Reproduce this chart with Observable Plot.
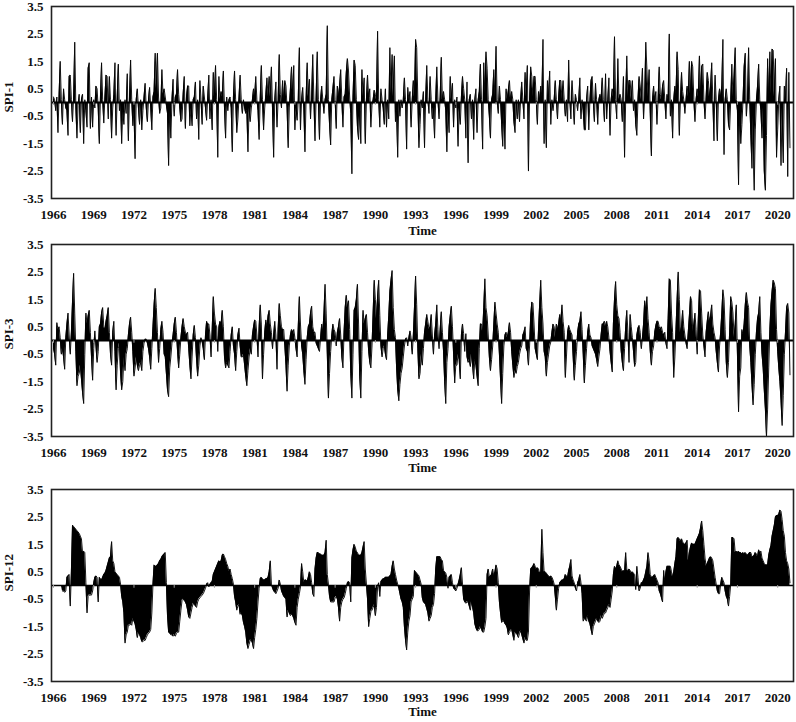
<!DOCTYPE html>
<html><head><meta charset="utf-8">
<script src="https://cdn.jsdelivr.net/npm/d3@7"></script>
<script src="https://cdn.jsdelivr.net/npm/@observablehq/plot@0.6"></script>
<style>
html,body{margin:0;padding:0;background:#fff;}
#chart{position:relative;width:796px;height:722px;overflow:hidden;background:#fff;}
#chart svg{position:absolute;left:0;}
</style></head><body><div id="chart"></div>
<script>
const startYear = 1966;
const xTickYears = [1966,1969,1972,1975,1978,1981,1984,1987,1990,1993,1996,1999,2002,2005,2008,2011,2014,2017,2020];
const yTicks = [-3.5,-2.5,-1.5,-0.5,0.5,1.5,2.5,3.5];
const panelLabels = ["SPI-1","SPI-3","SPI-12"];
const axisTitle = "Time";

// monthly values, Jan 1966 - Dec 2020, one row per year
const spi1 = [
0.2,0.1,-0.3,0.2,-1.1,0.3,1.5,0.1,-0.8,0.5,0.1,-0.2,
-0.3,-1.2,0.95,1.0,0.1,-0.7,0.2,2.2,-0.2,-1.3,-0.1,0.3,
-1.1,0.1,0.3,-1.5,0.1,-0.3,-0.9,1.25,1.45,-0.95,0.2,-0.9,
0.1,-0.2,0.6,0.5,-0.2,-1.5,0.2,1.45,0.1,-0.75,0.2,1.0,
0.95,-0.6,0.95,0.1,-1.3,-0.2,0.3,1.45,-1.2,0.2,1.4,-0.3,
0.1,-1.5,-0.3,-0.8,0.1,-0.4,1.05,-1.4,0.2,1.55,0.1,-0.85,
-0.3,-2.05,0.1,0.5,-0.2,-0.8,0.1,-1.0,-0.3,0.2,0.7,-0.2,
-0.7,0.1,0.55,-0.2,-1.0,0.2,0.4,1.8,0.5,1.8,0.2,-0.4,
-0.2,1.2,0.3,0.5,0.2,-0.1,-0.4,-2.3,-0.3,-1.3,0.1,0.85,
-0.5,0.2,0.3,1.2,0.3,-0.2,-0.7,-0.6,0.3,0.95,-0.95,0.2,
0.6,0.6,-0.85,-0.2,-0.85,0.1,0.2,0.75,-0.6,0.1,-1.35,0.8,
0.1,-0.8,0.6,0.2,-0.2,-0.65,0.2,1.0,-0.6,0.1,-1.0,1.1,
0.2,1.35,0.1,-2.0,0.95,0.1,0.4,0.2,1.15,-0.2,-1.3,0.2,
-0.3,0.1,0.2,-0.2,-1.8,0.2,1.15,0.1,-1.1,-0.6,0.2,1.0,
0.1,-0.4,0.1,-0.2,-0.4,-0.3,-1.8,-0.2,-0.7,-0.2,0.1,0.5,
0.2,0.95,0.1,-0.3,-1.35,0.2,1.35,0.1,-1.0,-0.2,0.3,0.9,
0.2,0.95,0.2,1.3,-0.3,-2.0,0.1,0.75,-0.9,0.1,1.75,0.3,
-0.2,0.8,0.1,0.8,0.6,-0.2,-1.65,-0.2,0.5,1.3,0.3,1.35,
-1.0,-0.2,-0.65,0.1,2.0,-1.0,0.1,0.55,-0.2,-1.8,0.1,1.45,
0.2,0.85,-0.6,0.2,1.75,0.1,-1.4,0.2,1.85,0.1,-1.35,0.1,
0.6,0.1,-0.4,0.1,0.3,2.8,0.1,-0.8,-1.55,0.1,0.5,0.95,
0.1,-0.95,0.6,0.2,0.6,1.2,0.1,-0.9,0.2,0.3,1.1,1.6,
1.15,0.2,-0.4,-2.6,0.2,1.55,1.35,0.1,-0.9,-1.35,-0.3,-1.5,
1.2,0.2,0.9,-1.5,0.1,1.0,0.2,0.5,-0.9,-0.1,0.1,0.45,
0.3,0.1,2.6,0.1,-0.9,0.5,0.1,-0.2,-0.8,0.5,-0.9,0.1,
-0.6,2.0,0.3,1.75,0.2,1.7,-0.7,-0.3,-2.0,0.1,-0.5,0.1,
-0.2,0.1,0.9,0.1,-1.7,0.55,0.1,0.4,-0.9,0.1,0.8,0.2,
2.3,2.0,0.1,-1.65,-0.8,0.1,-0.2,0.4,-1.65,0.1,1.35,0.1,
-0.4,0.95,0.1,-0.6,-0.2,-1.3,0.1,1.3,0.1,-0.6,0.2,1.65,
0.1,0.4,0.1,-0.3,-1.8,-0.2,-1.1,0.95,0.1,0.7,-0.9,0.1,
-0.2,0.2,-1.6,-0.2,-0.8,0.2,0.95,0.5,0.1,-1.3,0.75,-2.2,
0.1,0.3,-0.6,0.1,-1.35,0.1,0.5,-1.1,0.1,0.4,1.4,0.1,
-1.7,1.45,0.3,1.85,1.25,0.1,-0.5,-1.3,0.1,0.3,1.2,0.2,
2.05,0.1,-0.4,0.6,0.1,-0.8,-1.6,-0.3,-1.7,0.5,0.1,0.45,
0.8,0.1,0.4,0.1,-0.7,-1.1,0.1,-0.6,0.1,-0.7,0.1,0.75,
0.1,-0.6,1.1,0.2,1.35,-2.5,0.1,1.3,0.95,0.2,0.95,0.95,
0.1,-0.8,0.4,0.1,0.6,0.2,2.3,-1.5,0.1,-1.65,0.8,0.2,
1.15,-0.8,0.1,-0.3,0.1,0.8,0.1,-0.6,0.2,0.8,0.8,0.1,
0.8,0.1,-0.5,0.1,-0.7,1.55,0.1,-0.6,0.8,0.1,-0.8,0.3,
0.1,-0.3,0.1,0.9,-0.6,0.1,-0.3,-1.0,-1.0,0.1,0.6,-1.0,
0.1,0.8,0.95,0.1,-0.7,0.7,0.1,-0.8,0.1,0.3,0.1,0.9,
0.1,-0.7,1.05,-0.6,0.1,0.9,-1.2,0.1,0.5,0.2,2.4,0.1,
-0.6,1.6,0.1,0.3,0.1,-0.7,0.95,-2.0,0.1,1.7,0.2,0.8,
0.8,0.1,0.8,-0.3,0.1,-0.8,-1.2,0.1,0.95,0.6,0.1,1.25,
-0.6,0.2,2.2,1.2,0.2,1.2,-0.4,-1.95,0.1,0.6,0.1,0.4,
-0.8,0.1,1.3,0.3,0.1,0.6,0.8,0.1,-0.6,0.3,0.1,2.5,
-0.5,0.1,-1.3,0.1,0.6,0.3,1.85,1.2,-1.2,0.1,1.1,0.4,
0.1,-0.4,0.1,0.6,0.2,1.5,0.3,1.5,1.3,0.1,-0.7,0.1,
0.5,0.2,1.7,0.3,1.3,1.4,0.1,-0.6,0.2,1.1,0.8,0.2,
0.6,1.45,0.1,-1.4,1.0,0.1,-1.4,0.1,0.5,0.2,0.6,2.3,
-1.9,0.1,0.5,0.1,-0.8,-1.0,0.1,1.4,0.2,1.0,2.0,0.1,
-0.3,-3.0,-0.4,-1.5,-0.8,0.1,1.3,1.8,-0.5,0.1,2.0,0.1,
-1.2,-2.4,-0.5,-3.2,-1.0,0.1,0.6,1.4,0.1,-0.3,-1.3,-0.2,
-2.5,-3.2,-1.2,1.6,0.2,1.85,0.3,1.95,1.9,0.2,1.6,-2.0,
-1.0,0.1,0.6,-2.3,-0.2,-2.2,0.6,0.1,1.25,-2.7,1.1,-1.65
];

const spi3 = [
-0.3,-0.5,-0.9,0.65,0.4,0.5,0.1,-0.5,-0.3,-0.6,-1.05,0.1,
0.6,1.0,0.2,-0.5,0.3,1.4,2.45,1.0,-0.4,-1.65,-1.3,-1.2,
-0.9,-1.4,-1.9,-2.3,-0.5,1.0,0.6,0.9,1.1,0.3,-0.6,-1.45,
-0.3,0.35,-0.2,-0.8,-0.4,0.5,0.6,1.0,1.2,0.5,0.4,0.7,
0.9,1.2,0.3,-0.5,-0.9,0.3,0.7,-0.4,-1.8,-0.9,-0.3,-0.1,
-1.2,-1.8,-1.5,-0.6,-1.1,-0.5,-0.3,0.2,0.6,0.85,0.3,-0.4,
-1.3,-1.0,-0.6,-0.9,-1.1,-0.9,-0.8,-1.1,-0.4,-0.1,0.05,0.05,
-0.1,-0.3,-0.6,-1.05,-0.3,0.5,1.3,1.9,1.2,0.3,-0.8,-0.3,
0.4,0.7,0.3,-0.5,-0.6,-1.2,-1.8,-2.05,-1.0,-0.6,-0.1,0.2,
0.6,0.85,0.3,-0.4,-1.0,-0.5,0.1,0.5,0.8,0.5,0.3,0.2,
0.3,-0.3,-0.9,-1.4,-0.6,0.2,0.55,0.1,-0.7,-1.3,-0.9,-0.2,
0.1,-0.05,-0.3,-0.7,0.2,0.7,0.6,0.6,0.2,-0.6,0.4,1.6,
1.0,0.6,0.5,-0.4,0.5,0.7,0.6,1.1,0.5,-0.6,-1.0,-0.8,
-0.9,-1.0,-0.4,0.2,0.5,-0.2,-0.5,-1.1,-0.4,0.2,0.45,-0.2,
-0.6,-0.6,-0.5,-0.9,-1.3,-1.65,-1.1,-0.6,-0.3,-0.5,0.2,0.5,
0.75,0.7,0.2,-0.6,0.5,1.3,0.6,-1.4,-0.5,0.3,0.75,0.5,
0.9,1.1,0.6,0.3,-0.3,0.2,0.7,0.2,-1.05,0.4,1.35,0.9,
0.5,0.4,0.4,-0.2,-0.9,-1.85,-0.9,-0.2,0.2,0.4,0.3,0.4,
0.1,-0.3,-0.6,0.5,1.6,0.6,-0.2,-0.5,-1.1,-1.6,-0.7,0.1,
0.5,0.6,1.0,1.25,0.5,0.3,0.3,-0.1,-0.2,-0.3,-0.4,0.1,
0.6,0.3,1.0,2.05,1.0,-0.5,-2.1,-1.2,-0.4,0.2,0.6,0.4,
0.3,-0.2,0.3,0.5,0.8,0.2,-0.6,-1.0,0.3,1.2,1.65,1.2,
1.45,0.4,-1.2,-2.1,-0.5,1.1,1.2,1.5,2.05,0.6,-1.3,-2.1,
-0.4,1.1,0.6,0.8,0.95,0.3,-0.4,-0.8,-1.0,-0.2,1.0,2.2,
1.5,0.8,1.6,2.2,0.9,-0.2,-0.6,-0.3,-0.2,-0.5,-0.7,0.2,
0.9,1.8,2.2,2.55,1.2,0.4,0.1,-1.0,-1.8,-2.2,-1.6,-1.2,
-1.0,-0.6,-0.2,0.05,0.1,-0.2,0.1,0.35,0.1,-0.5,0.2,1.2,
2.35,1.3,-0.3,-1.4,-1.2,-0.5,-0.9,-0.3,0.3,0.6,0.95,0.7,
0.4,0.5,0.95,0.2,-0.5,0.2,0.6,1.3,0.4,-0.3,0.4,1.05,
0.3,-0.4,-1.5,-2.3,-0.8,-0.3,0.5,0.9,1.25,0.5,-0.5,-1.55,
-0.9,-0.9,-0.5,-0.7,-1.4,0.2,0.6,0.25,-0.4,0.25,-0.6,-0.8,
-0.7,-0.95,-0.5,-0.9,-1.4,-0.7,-0.9,-1.3,-1.65,-0.3,0.6,0.6,
0.3,1.2,2.25,1.2,0.9,0.2,-0.6,-1.1,-0.7,-0.2,0.6,1.4,
1.0,0.6,0.3,-0.5,-1.4,-2.3,-1.2,-0.2,0.2,0.3,0.1,0.3,
0.65,0.3,-0.4,-0.9,-1.35,-1.1,-1.2,-0.95,-0.8,-0.5,-0.3,-0.2,
0.2,0.3,0.5,-0.3,-0.4,-0.9,-0.2,0.9,1.4,1.35,0.6,-0.3,
-0.5,-0.7,0.4,1.3,2.2,1.2,0.6,-0.4,-0.6,-1.3,-0.8,-0.5,
-0.2,-0.05,0.3,0.6,0.5,0.1,0.6,0.4,0.6,0.95,0.7,1.3,
0.7,0.3,-1.35,-0.6,0.3,0.55,0.4,0.3,0.2,-0.6,-1.45,-0.9,
-0.4,0.3,0.6,0.7,1.05,0.4,-0.5,-1.55,-0.9,-0.3,0.3,0.6,
0.2,0.1,-0.2,-0.3,-0.4,-0.5,-0.7,-0.95,-0.6,-0.3,0.2,0.6,
0.6,0.7,0.5,0.7,0.5,0.1,-0.4,-0.8,-1.15,0.6,1.5,2.15,
1.3,0.9,0.8,0.3,-0.4,-0.8,-1.1,-0.3,0.5,1.1,0.3,-0.8,
0.95,0.5,0.1,-0.4,-0.95,-0.8,0.2,0.45,0.55,0.3,-0.3,0.1,
0.6,1.45,1.1,1.6,0.8,0.3,-0.4,-0.9,-0.4,-0.2,0.3,0.55,
0.7,0.7,0.5,0.4,0.5,0.3,0.2,0.3,-0.1,-0.3,0.8,2.25,
2.2,1.0,0.3,-1.35,-0.6,0.4,1.5,2.5,1.5,0.3,0.5,1.1,
0.5,0.2,-0.1,-0.3,0.3,0.9,1.6,1.45,0.3,0.6,1.0,0.4,
-0.5,0.8,1.85,1.8,1.0,0.2,-0.2,-0.6,0.3,0.7,1.05,0.7,
0.9,1.3,0.6,0.3,0.1,-0.4,-0.8,-1.15,-0.2,0.3,1.0,1.85,
1.5,0.4,-0.8,-1.35,-0.8,0.3,1.6,1.4,1.0,0.1,0.6,1.3,
-0.5,-2.6,-1.3,-1.0,0.4,0.2,0.6,1.3,1.75,1.4,1.2,-0.2,
-0.8,-1.6,-2.35,-1.6,-0.5,0.3,0.8,1.0,1.6,0.3,-0.5,-1.0,
-1.8,-2.5,-3.5,-2.5,-1.0,0.4,1.3,1.8,2.2,2.1,1.9,0.4,
-0.4,-1.0,-1.5,-2.2,-3.1,-2.0,-0.5,0.3,1.2,1.35,1.0,-1.25
];

const spi12 = [
null,null,null,null,null,null,null,null,-0.2,-0.2,-0.25,-0.2,
0.3,0.35,0.4,-0.75,0.5,2.2,2.15,2.1,2.05,2.0,1.95,1.9,
1.8,1.7,1.2,1.25,1.2,0.1,-1.0,-0.4,-0.35,-0.35,-0.35,-0.2,
0.1,0.3,0.35,0.3,-0.6,0.3,0.25,0.2,0.3,0.4,0.45,0.55,
0.7,0.85,1.0,1.05,1.6,0.9,0.8,0.5,0.45,0.4,0.35,0.3,
0.05,-0.4,-0.6,-1.0,-2.1,-1.8,-1.7,-1.45,-1.45,-1.4,-1.45,-1.2,
-1.3,-1.4,-1.6,-1.9,-1.7,-1.8,-1.9,-2.05,-2.05,-2.0,-2.0,-1.9,
-1.8,-1.75,-1.7,-1.6,-1.0,0.05,0.75,0.7,0.7,0.75,0.8,0.9,
0.95,1.05,1.1,1.15,1.2,0.1,-1.1,-1.7,-1.75,-1.8,-1.8,-1.85,
-1.8,-1.85,-1.75,-1.7,-1.7,-1.3,-0.9,-0.55,-0.5,-0.55,-0.6,-0.7,
-0.9,-1.15,-1.2,-1.0,-0.8,-0.65,-0.7,-0.75,-0.8,-0.6,-0.5,-0.45,
-0.4,-0.35,-0.3,-0.2,-0.1,0.05,0.1,-0.05,0.05,0.1,0.15,0.4,
0.5,0.6,0.7,0.8,0.9,0.85,0.9,1.1,1.15,1.05,0.95,0.8,
0.7,0.5,0.6,0.4,0.25,0.05,-0.4,-0.6,-0.9,-0.75,-0.7,-1.05,
-1.0,-1.1,-1.35,-1.5,-1.7,-2.1,-2.3,-2.15,-2.0,-2.0,-2.1,-2.3,
-1.9,-1.6,-1.2,-0.6,-0.1,0.25,0.3,0.25,0.2,0.2,0.25,0.25,
0.3,0.5,0.9,0.05,-0.1,-0.2,-0.25,-0.3,-0.2,-0.1,0.2,0.05,
-0.2,-0.3,-0.4,-0.45,-0.5,-1.15,-0.9,-1.0,-1.1,-1.05,-1.1,-1.2,
-1.35,-1.45,-0.8,-0.5,-0.3,-0.05,0.8,0.5,0.1,0.2,0.2,0.15,
0.3,0.5,0.4,0.1,-0.3,-0.4,0.6,1.0,1.2,1.2,1.15,1.15,
1.1,1.1,1.1,1.2,1.65,0.4,0.05,-0.4,-0.6,-0.6,-0.6,-0.6,
-0.45,-0.4,-0.5,-0.8,-1.3,-0.8,-0.6,-0.5,-0.45,-0.3,-0.1,0.1,
0.15,0.1,-0.6,1.0,1.3,1.5,1.4,1.25,1.2,1.1,1.1,1.1,
1.2,1.4,1.6,0.6,0.05,-0.5,-1.5,-1.2,-0.95,-0.9,-0.8,-0.7,
-1.1,-0.8,-0.05,0.1,-0.4,0.15,0.2,0.25,0.25,0.3,0.3,0.3,
0.3,0.35,0.4,0.7,0.9,0.6,0.4,0.2,0.05,-0.1,-0.3,-0.5,
-0.6,-0.8,-1.5,-2.0,-2.35,-1.7,-1.3,-1.1,-0.6,-0.5,-0.4,0.55,
0.5,0.45,0.4,0.35,0.2,0.05,-0.45,-0.6,-0.65,-0.7,-0.85,-1.0,
-1.3,-1.2,-1.1,-0.8,-0.7,-0.3,0.6,1.05,1.05,1.05,1.05,0.95,
0.9,0.55,0.5,0.45,0.3,-0.1,0.3,0.35,0.4,0.1,-0.1,-0.15,
-0.2,-0.1,0.05,0.2,0.4,0.65,0.05,-0.5,-0.6,-0.65,-0.6,-0.6,
-0.75,-0.9,-0.6,-0.8,-1.0,-1.4,-1.55,-1.65,-1.65,-1.6,-1.5,-1.6,
-1.7,-1.7,-1.5,-1.2,0.4,0.6,0.3,0.35,0.4,0.6,0.35,0.5,
0.75,0.6,0.1,-0.6,-1.0,-1.35,-1.3,-1.3,-1.4,-1.45,-1.55,-1.8,
-1.7,-1.65,-1.6,-1.8,-2.0,-1.7,-1.75,-1.8,-1.9,-1.75,-1.65,-1.8,
-1.95,-2.1,-1.9,-2.0,-2.0,-1.7,-0.2,0.6,0.65,0.7,0.8,0.7,
0.6,0.65,0.6,0.45,0.5,2.05,1.2,0.5,0.5,0.45,0.4,0.35,
0.3,0.35,0.3,0.2,0.05,-0.4,-0.9,-0.5,-0.1,0.1,0.15,0.2,
0.2,0.25,0.4,0.35,0.3,0.55,0.7,0.95,0.35,0.2,0.1,-0.1,
-0.2,0.1,0.2,0.4,0.1,-0.3,-1.3,-1.2,-1.25,-1.3,-1.1,-1.3,
-1.4,-1.6,-1.8,-1.5,-1.4,-1.3,-1.2,-1.3,-1.35,-1.3,-1.1,-1.2,
-1.1,-1.0,-1.0,-0.9,-0.8,-0.7,-0.8,-0.5,-0.2,0.4,0.7,0.6,
0.7,0.9,0.75,0.7,0.6,0.5,0.55,0.5,1.2,0.6,0.5,0.6,
0.55,0.45,0.5,0.45,0.4,-0.15,0.7,0.3,-0.2,-0.1,0.1,0.1,
0.2,0.3,0.5,0.7,1.2,0.9,0.4,0.3,0.3,0.35,0.4,0.3,
0.2,0.1,-0.2,-0.3,-0.45,-0.6,0.55,0.15,0.5,0.7,0.7,0.7,
0.7,0.5,0.3,0.5,0.8,1.05,1.7,1.75,1.7,1.6,1.7,1.6,
1.5,1.5,1.55,1.65,0.9,1.2,1.4,1.55,1.5,1.5,1.5,1.6,
1.7,1.8,1.9,2.1,2.35,2.0,1.5,1.0,0.7,0.8,0.9,1.0,
1.05,1.0,0.9,0.6,0.3,0.05,-0.2,-0.3,-0.3,0.05,0.3,0.2,
0.1,-0.2,-0.4,-0.5,-0.75,-0.4,0.05,1.75,1.75,1.7,1.2,1.25,
1.2,1.25,1.2,1.2,1.15,1.2,1.15,1.2,1.15,1.1,1.15,1.2,
1.2,1.05,1.05,1.1,1.2,1.15,1.05,1.3,1.2,1.25,1.0,0.9,
0.8,0.75,0.75,0.75,1.1,1.3,1.45,1.8,2.0,2.2,2.5,2.55,
2.55,2.6,2.75,2.7,2.4,2.0,1.8,1.2,0.9,0.8,0.6,0.1
];

const seriesList = [spi1, spi3, spi12];
const frameTops = [6, 243.5, 489];
const labelShift = [10, 9, 6];
const titleShift = [36, 35, 34];
const FRAME_H = 192, M_TOP = 10, M_BOTTOM = 45;
const font = "'Liberation Serif','Times New Roman',Times,serif";

const host = document.getElementById("chart");
seriesList.forEach((values, k) => {
  const rows = values.map((v, i) => ({t: startYear + i / 12, v}));
  const svg = Plot.plot({
    width: 796,
    height: M_TOP + FRAME_H + M_BOTTOM,
    marginTop: M_TOP, marginBottom: M_BOTTOM, marginLeft: 51, marginRight: 3,
    style: {background: "none", overflow: "visible", fontFamily: font, fontSize: "13px", fontWeight: "bold", color: "#111"},
    x: {domain: [1965.85, 2021.18], ticks: xTickYears, tickFormat: d => String(d), tickSize: 0, tickPadding: 11, label: null},
    y: {domain: [-3.5, 3.5], ticks: yTicks, tickFormat: d => d.toFixed(1), tickSize: 0, tickPadding: 8, label: null},
    marks: [
      Plot.areaY(rows, {x: "t", y: "v", fill: "#000", curve: "linear"}),
      Plot.lineY(rows, {x: "t", y: "v", stroke: "#000", strokeWidth: 0.9, curve: "linear"}),
      Plot.ruleY([0], {stroke: "#000", strokeWidth: k === 2 ? 1.5 : 2}),
      Plot.ruleX(xTickYears, {x: d => d, y1: 0, y2: -0.1, stroke: "#999"}),
      Plot.frame({stroke: "#222", strokeWidth: 1.6}),
      Plot.text([panelLabels[k]], {text: d => d, frameAnchor: "left", dx: -43, dy: labelShift[k], rotate: -90, fontSize: 13, fontWeight: "bold", fill: "#111"}),
      Plot.text([axisTitle], {text: d => d, frameAnchor: "bottom", dy: titleShift[k], fontSize: 13, fontWeight: "bold", fill: "#111"})
    ]
  });
  svg.style.top = (frameTops[k] - M_TOP) + "px";
  host.appendChild(svg);
});
</script>
</body></html>
